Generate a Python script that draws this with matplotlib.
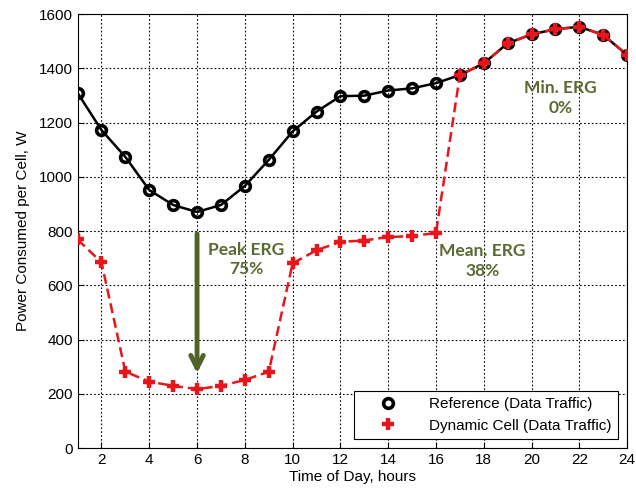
import numpy as np
import matplotlib
matplotlib.use('Agg')
import matplotlib.pyplot as plt

plt.rcParams['font.family'] = ['Liberation Sans', 'DejaVu Sans']

hours = list(range(1, 25))
reference = [1309, 1172, 1073, 951, 896, 870, 896, 966, 1062, 1167, 1240, 1297,
             1299, 1318, 1326, 1345, 1375, 1418, 1492, 1525, 1544, 1553, 1523, 1449]
dynamic = [769, 684, 281, 245, 229, 217, 229, 251, 281, 681, 729, 760,
           765, 778, 781, 793, 1375, 1418, 1492, 1525, 1544, 1553, 1523, 1449]
xticks = list(range(2, 25, 2))
yticks = list(range(0, 1601, 200))

arrow_green = '#4f6228'
text_green = '#5a6a32'

fig = plt.figure(figsize=(6.36, 4.90), dpi=100)
ax = fig.add_axes([0.122, 0.0857, 0.864, 0.8857])

ax.plot(hours, reference, color='black', lw=1.8, marker='o', markersize=7,
        markerfacecolor='none', markeredgecolor='black', markeredgewidth=2.6,
        label='Reference (Data Traffic)', zorder=3)
ax.plot(hours, dynamic, color='#e8161b', lw=1.8, ls=(0, (4, 2)), marker='+',
        markersize=9, markeredgewidth=3.2, markeredgecolor='#e8161b',
        label='Dynamic Cell (Data Traffic)', zorder=4)

# green arrow for peak saving
ax.annotate('', xy=(6, 265), xytext=(6, 800),
            arrowprops=dict(arrowstyle='->,head_length=0.9,head_width=0.45',
                            color=arrow_green, lw=3.5), zorder=2)

txt = dict(color=text_green, fontsize=12.5, fontweight='bold', family=['Lato', 'DejaVu Sans'],
           ha='center', va='center', linespacing=1.3)
ax.text(8.05, 695, 'Peak ERG\n75%', **txt)
ax.text(17.95, 688, 'Mean. ERG\n38%', **txt)
ax.text(21.2, 1292, 'Min. ERG\n0%', **txt)

ax.set_xlim(1, 24)
ax.set_ylim(0, 1600)
ax.set_xticks(xticks)
ax.set_yticks(yticks)
ax.tick_params(labelsize=11, direction='in', length=4)
ax.grid(True, color='black', ls=(0, (1.5, 2)), lw=0.8)
for s in ax.spines.values():
    s.set_linewidth(0.8)

ax.set_xlabel('Time of Day, hours', fontsize=11, labelpad=2)
ax.set_ylabel('Power Consumed per Cell, W', fontsize=11, labelpad=6)

leg = ax.legend(loc='lower right', fontsize=11, frameon=True, fancybox=False,
                edgecolor='black', framealpha=1, handlelength=3.6,
                handletextpad=0.9, borderaxespad=0.6)
leg.get_frame().set_linewidth(0.8)
for line in leg.get_lines():
    line.set_linestyle('none')

fig.savefig('out.png', dpi=100)
